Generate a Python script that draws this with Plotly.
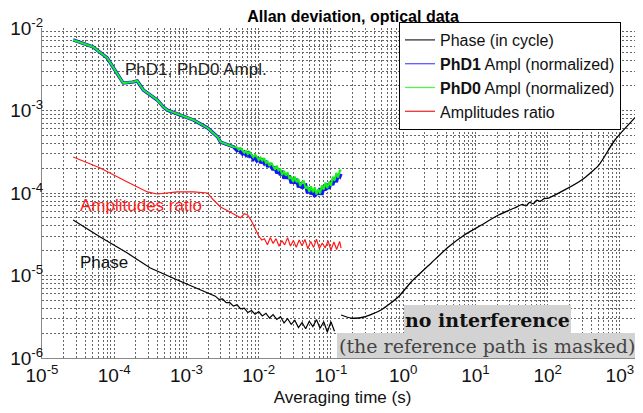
import plotly.graph_objects as go

# ---------------- data ----------------
# PhD1 / PhD0 amplitude (normalized) Allan deviation
amp_tau_smooth = [2.70e-5, 5.1e-5, 8.0e-5, 1.03e-4, 1.33e-4, 1.78e-4, 2.08e-4, 2.53e-4, 3.16e-4,
                  3.95e-4, 4.8e-4, 5.44e-4, 8.26e-4, 1.25e-3, 1.96e-3, 2.70e-3, 2.96e-3, 4.5e-3]
amp_adev_smooth = [7.16e-3, 5.89e-3, 4.33e-3, 3.10e-3, 2.15e-3, 2.21e-3, 2.28e-3, 1.77e-3, 1.54e-3,
                   1.34e-3, 1.10e-3, 1.01e-3, 8.81e-4, 7.67e-4, 6.14e-4, 4.78e-4, 4.15e-4, 3.61e-4]
amp_tau_noisy = [5.01e-3, 5.31e-3, 5.62e-3, 5.96e-3, 6.31e-3, 6.68e-3, 7.08e-3, 7.50e-3, 7.94e-3, 8.41e-3,
                 8.91e-3, 9.44e-3, 1.0e-2, 1.06e-2, 1.12e-2, 1.19e-2, 1.26e-2, 1.33e-2, 1.41e-2, 1.50e-2,
                 1.58e-2, 1.68e-2, 1.78e-2, 1.88e-2, 2.0e-2, 2.11e-2, 2.24e-2, 2.37e-2, 2.51e-2, 2.66e-2,
                 2.82e-2, 2.99e-2, 3.16e-2, 3.35e-2, 3.55e-2, 3.76e-2, 3.98e-2, 4.22e-2, 4.47e-2, 4.73e-2,
                 5.01e-2, 5.31e-2, 5.62e-2, 5.96e-2, 6.31e-2, 6.68e-2, 7.08e-2, 7.50e-2, 7.94e-2, 8.41e-2,
                 8.91e-2, 9.44e-2, 0.100, 0.106, 0.112, 0.119, 0.126, 0.133, 0.138]
phd0_adev_noisy = [3.57e-4, 3.33e-4, 3.49e-4, 3.26e-4, 3.08e-4, 3.22e-4, 2.97e-4, 3.15e-4, 2.87e-4, 2.71e-4,
                   2.90e-4, 2.74e-4, 2.50e-4, 2.68e-4, 2.47e-4, 2.65e-4, 2.31e-4, 2.40e-4, 2.13e-4, 2.33e-4,
                   2.13e-4, 1.92e-4, 2.15e-4, 1.875e-4, 1.94e-4, 1.65e-4, 1.85e-4, 1.62e-4, 1.79e-4, 1.48e-4,
                   1.58e-4, 1.36e-4, 1.58e-4, 1.35e-4, 1.47e-4, 1.21e-4, 1.37e-4, 1.39e-4, 1.13e-4, 1.21e-4,
                   1.03e-4, 1.21e-4, 1.02e-4, 1.175e-4, 9.62e-5, 1.11e-4, 9.84e-5, 1.24e-4, 1.10e-4, 1.34e-4,
                   1.14e-4, 1.37e-4, 1.22e-4, 1.58e-4, 1.41e-4, 1.76e-4, 1.54e-4, 1.90e-4, 1.83e-4]
phd1_adev_noisy = [3.26e-4, 3.37e-4, 3.15e-4, 2.97e-4, 3.11e-4, 2.87e-4, 3.04e-4, 2.77e-4, 2.81e-4, 2.56e-4,
                   2.71e-4, 2.47e-4, 2.65e-4, 2.31e-4, 2.47e-4, 2.28e-4, 2.44e-4, 2.07e-4, 2.28e-4, 2.06e-4,
                   1.90e-4, 2.08e-4, 1.73e-4, 1.875e-4, 1.65e-4, 1.85e-4, 1.49e-4, 1.68e-4, 1.49e-4, 1.62e-4,
                   1.31e-4, 1.51e-4, 1.30e-4, 1.48e-4, 1.17e-4, 1.34e-4, 1.14e-4, 1.24e-4, 1.25e-4, 9.95e-5,
                   1.16e-4, 9.62e-5, 1.10e-4, 9.02e-5, 1.05e-4, 9.55e-5, 1.14e-4, 9.51e-5, 1.17e-4, 1.08e-4,
                   1.30e-4, 1.12e-4, 1.37e-4, 1.25e-4, 1.54e-4, 1.36e-4, 1.67e-4, 1.58e-4, 1.71e-4]

# Amplitudes ratio
ratio_tau = [2.70e-5, 6.40e-5, 1.52e-4, 2.87e-4, 3.95e-4, 5.62e-4, 7.50e-4, 1.25e-3, 1.78e-3, 1.96e-3,
             2.37e-3, 2.96e-3, 3.55e-3, 3.98e-3, 4.50e-3, 5.01e-3, 5.62e-3, 6.31e-3, 7.03e-3, 7.94e-3,
             8.53e-3, 9.33e-3, 1.0e-2, 1.10e-2,
             1.20e-2, 1.32e-2, 1.45e-2, 1.58e-2, 1.74e-2, 1.91e-2, 2.09e-2, 2.29e-2, 2.51e-2, 2.75e-2,
             3.02e-2, 3.31e-2, 3.63e-2, 3.98e-2, 4.37e-2, 4.79e-2, 5.25e-2, 5.75e-2, 6.31e-2, 6.92e-2,
             7.59e-2, 8.32e-2, 9.12e-2, 0.1, 0.110, 0.120, 0.132, 0.138]
ratio_adev = [2.73e-4, 2.01e-4, 1.36e-4, 1.03e-4, 9.73e-5, 1.0e-4, 1.03e-4, 1.03e-4, 1.0e-4, 1.0e-4,
              8.22e-5, 6.76e-5, 6.22e-5, 5.89e-5, 5.6e-5, 5.26e-5, 5.0e-5, 5.6e-5, 5.41e-5, 4.58e-5,
              3.98e-5, 3.37e-5, 3.01e-5, 2.69e-5,
              2.79e-5, 2.36e-5, 2.89e-5, 2.45e-5, 2.80e-5, 2.26e-5, 2.65e-5, 2.35e-5, 2.88e-5, 2.28e-5,
              2.66e-5, 2.20e-5, 2.70e-5, 2.29e-5, 2.74e-5, 2.11e-5, 2.59e-5, 2.19e-5, 2.75e-5, 2.12e-5,
              2.48e-5, 2.15e-5, 2.64e-5, 2.04e-5, 2.55e-5, 2.07e-5, 2.59e-5, 2.14e-5]

# Phase (in cycle): fast acquisition, then (after a gap) slow acquisition
phase_tau_fast = [2.70e-5, 6.40e-5, 1.52e-4, 3.16e-4, 7.50e-4, 1.56e-3,
                  2.51e-3, 2.82e-3, 3.16e-3, 3.55e-3, 3.98e-3, 4.47e-3, 5.01e-3, 5.62e-3, 6.31e-3, 7.08e-3,
                  7.94e-3, 8.91e-3, 1.0e-2, 1.12e-2, 1.26e-2, 1.41e-2, 1.58e-2, 1.78e-2, 2.0e-2, 2.24e-2,
                  2.51e-2, 2.82e-2, 3.16e-2, 3.55e-2, 3.98e-2, 4.47e-2, 5.01e-2, 5.62e-2, 6.31e-2, 7.08e-2,
                  7.94e-2, 8.91e-2, 0.1, 0.112]
phase_adev_fast = [4.71e-5, 2.93e-5, 1.87e-5, 1.23e-5, 8.81e-6, 6.67e-6,
                   5.62e-6, 5.13e-6, 5.19e-6, 4.68e-6, 4.68e-6, 4.25e-6, 4.42e-6, 3.95e-6, 4.03e-6, 3.56e-6,
                   3.76e-6, 3.39e-6, 3.65e-6, 3.24e-6, 3.49e-6, 3.05e-6, 3.35e-6, 2.93e-6, 3.18e-6, 2.66e-6,
                   3.00e-6, 2.56e-6, 2.86e-6, 2.34e-6, 2.69e-6, 2.26e-6, 2.79e-6, 2.40e-6, 2.92e-6, 2.29e-6,
                   2.75e-6, 2.07e-6, 2.75e-6, 2.11e-6]
phase_tau_slow = [0.138, 0.190, 0.287, 0.494, 0.853, 1.29, 2.45, 4.22, 7.03, 12.1, 20.8, 34.8,
                  44.7, 50.1, 56.2, 63.1, 70.8, 79.4, 89.1, 103, 172, 296, 511, 853, 2220]
phase_adev_slow = [3.32e-6, 3.05e-6, 3.14e-6, 3.82e-6, 5.48e-6, 8.34e-6, 1.42e-5, 2.21e-5, 3.10e-5,
                   4.09e-5, 5.41e-5, 6.58e-5, 7.26e-5, 6.98e-5, 7.71e-5, 7.41e-5, 8.18e-5, 7.91e-5,
                   8.57e-5, 8.69e-5, 1.09e-4, 1.44e-4, 2.18e-4, 4.39e-4, 1.10e-3]

legend_names = ["Phase (in cycle)", "<b>PhD1</b> Ampl (normalized)",
                "<b>PhD0</b> Ampl (normalized)", "Amplitudes ratio"]
x_tick_exponents = [-5, -4, -3, -2, -1, 0, 1, 2, 3]
y_tick_exponents = [-6, -5, -4, -3, -2]

# ---------------- styling ----------------
C_PHASE, C_PHD1, C_PHD0, C_RATIO = "#000000", "#1414ff", "#14f014", "#ff1a1a"
L_PHASE, L_PHD1, L_PHD0, L_RATIO = "#333333", "#5a5aff", "#55ee55", "#ee3333"
FONT = "Liberation Sans, Arial, sans-serif"
OFF = 8                       # the page body adds an 8 px margin around the figure
W, H = 643 - OFF, 413 - OFF
ML, MR, MT, MB = 42 - OFF, 0, 28 - OFF, 55
PW, PH = W - ML - MR, H - MT - MB


def px(xp):   # window pixel -> paper x
    return (xp - OFF - ML) / PW


def py(yp):   # window pixel -> paper y
    return (H - MB - (yp - OFF)) / PH


fig = go.Figure()

# legend entries (thin sample lines)
for name, col in zip(legend_names, [L_PHASE, L_PHD1, L_PHD0, L_RATIO]):
    fig.add_trace(go.Scatter(x=[None], y=[None], mode="lines", name=name,
                             line=dict(color=col, width=1.3)))

# data traces
fig.add_trace(go.Scatter(x=phase_tau_fast, y=phase_adev_fast, mode="lines", showlegend=False,
                         line=dict(color=C_PHASE, width=1.2)))
fig.add_trace(go.Scatter(x=phase_tau_slow, y=phase_adev_slow, mode="lines", showlegend=False,
                         line=dict(color=C_PHASE, width=1.3, shape="spline", smoothing=0.6)))
fig.add_trace(go.Scatter(x=amp_tau_smooth + amp_tau_noisy, y=amp_adev_smooth + phd1_adev_noisy,
                         mode="lines", showlegend=False, line=dict(color=C_PHD1, width=3.4)))
fig.add_trace(go.Scatter(x=amp_tau_smooth + amp_tau_noisy, y=amp_adev_smooth + phd0_adev_noisy,
                         mode="lines", showlegend=False, line=dict(color=C_PHD0, width=2.0)))
fig.add_trace(go.Scatter(x=ratio_tau, y=ratio_adev, mode="lines", showlegend=False,
                         line=dict(color=C_RATIO, width=1.2)))

grid = dict(showgrid=True, gridcolor="#666666", gridwidth=1, griddash="2px,2px")
minor_x = [m * 10 ** e for e in range(-5, 4) for m in range(2, 10)]
minor_y = [m * 10 ** e for e in range(-6, -2) for m in range(2, 10)]

fig.update_xaxes(type="log", range=[-5, 3.32], automargin=False,
                 tickmode="array", tickvals=[10 ** e for e in x_tick_exponents],
                 ticktext=[f"10<sup>{e}</sup>" for e in x_tick_exponents],
                 ticks="", showline=True, linecolor="#888", linewidth=1, zeroline=False,
                 minor=dict(tickmode="array", tickvals=minor_x, ticks="", **grid),
                 tickfont=dict(family=FONT, size=19, color="#111"),
                 title=dict(text="Averaging time (s)", font=dict(family=FONT, size=17, color="#111"),
                            standoff=6),
                 **grid)
fig.update_yaxes(type="log", range=[-6, -2], automargin=False,
                 tickmode="array", tickvals=[10 ** e for e in y_tick_exponents],
                 ticktext=[f"10<sup>{e}</sup>" for e in y_tick_exponents],
                 ticks="", showline=True, linecolor="#888", linewidth=1, zeroline=False,
                 ticklabelstandoff=-6,
                 minor=dict(tickmode="array", tickvals=minor_y, ticks="", **grid),
                 tickfont=dict(family=FONT, size=19, color="#111"),
                 **grid)

# gray boxes behind the "no interference" note
fig.add_shape(type="rect", xref="paper", yref="paper", x0=px(404), x1=px(571), y0=py(333), y1=py(305),
              fillcolor="#d3d3d3", line=dict(width=0), layer="above")
fig.add_shape(type="rect", xref="paper", yref="paper", x0=px(337), x1=px(637), y0=py(358), y1=py(333),
              fillcolor="#d3d3d3", line=dict(width=0), layer="above")

ann = [
    dict(text="PhD1, PhD0 Ampl.", x=px(196), y=py(69), font=dict(family=FONT, size=17, color="#222")),
    dict(text="Amplitudes ratio", x=px(141), y=py(205), font=dict(family=FONT, size=17, color="#ff1a1a")),
    dict(text="Phase", x=px(104), y=py(262), font=dict(family=FONT, size=17, color="#111")),
    dict(text="<b>no interference</b>", x=px(487), y=py(320),
         font=dict(family="DejaVu Serif, serif", size=19, color="#111")),
    dict(text="(the reference path is masked)", x=px(487), y=py(346),
         font=dict(family="DejaVu Serif, serif", size=19, color="#444")),
]
for a in ann:
    fig.add_annotation(xref="paper", yref="paper", showarrow=False, xanchor="center", yanchor="middle", **a)

fig.update_layout(
    width=W, height=H, margin=dict(l=ML, r=MR, t=MT, b=MB, autoexpand=False),
    paper_bgcolor="white", plot_bgcolor="white",
    title=dict(text="<b>Allan deviation, optical data</b>", x=px(353), xref="paper",
               y=1 - 8 / H, yref="container", xanchor="center", yanchor="middle",
               font=dict(family=FONT, size=16, color="#000")),
    legend=dict(x=px(399), y=1 + 6 / PH, xanchor="left", yanchor="top", bgcolor="white",
                bordercolor="#000", borderwidth=1, font=dict(family=FONT, size=16, color="#111"),
                itemwidth=30, tracegroupgap=0),
    showlegend=True,
)

fig.write_html("out.html")
